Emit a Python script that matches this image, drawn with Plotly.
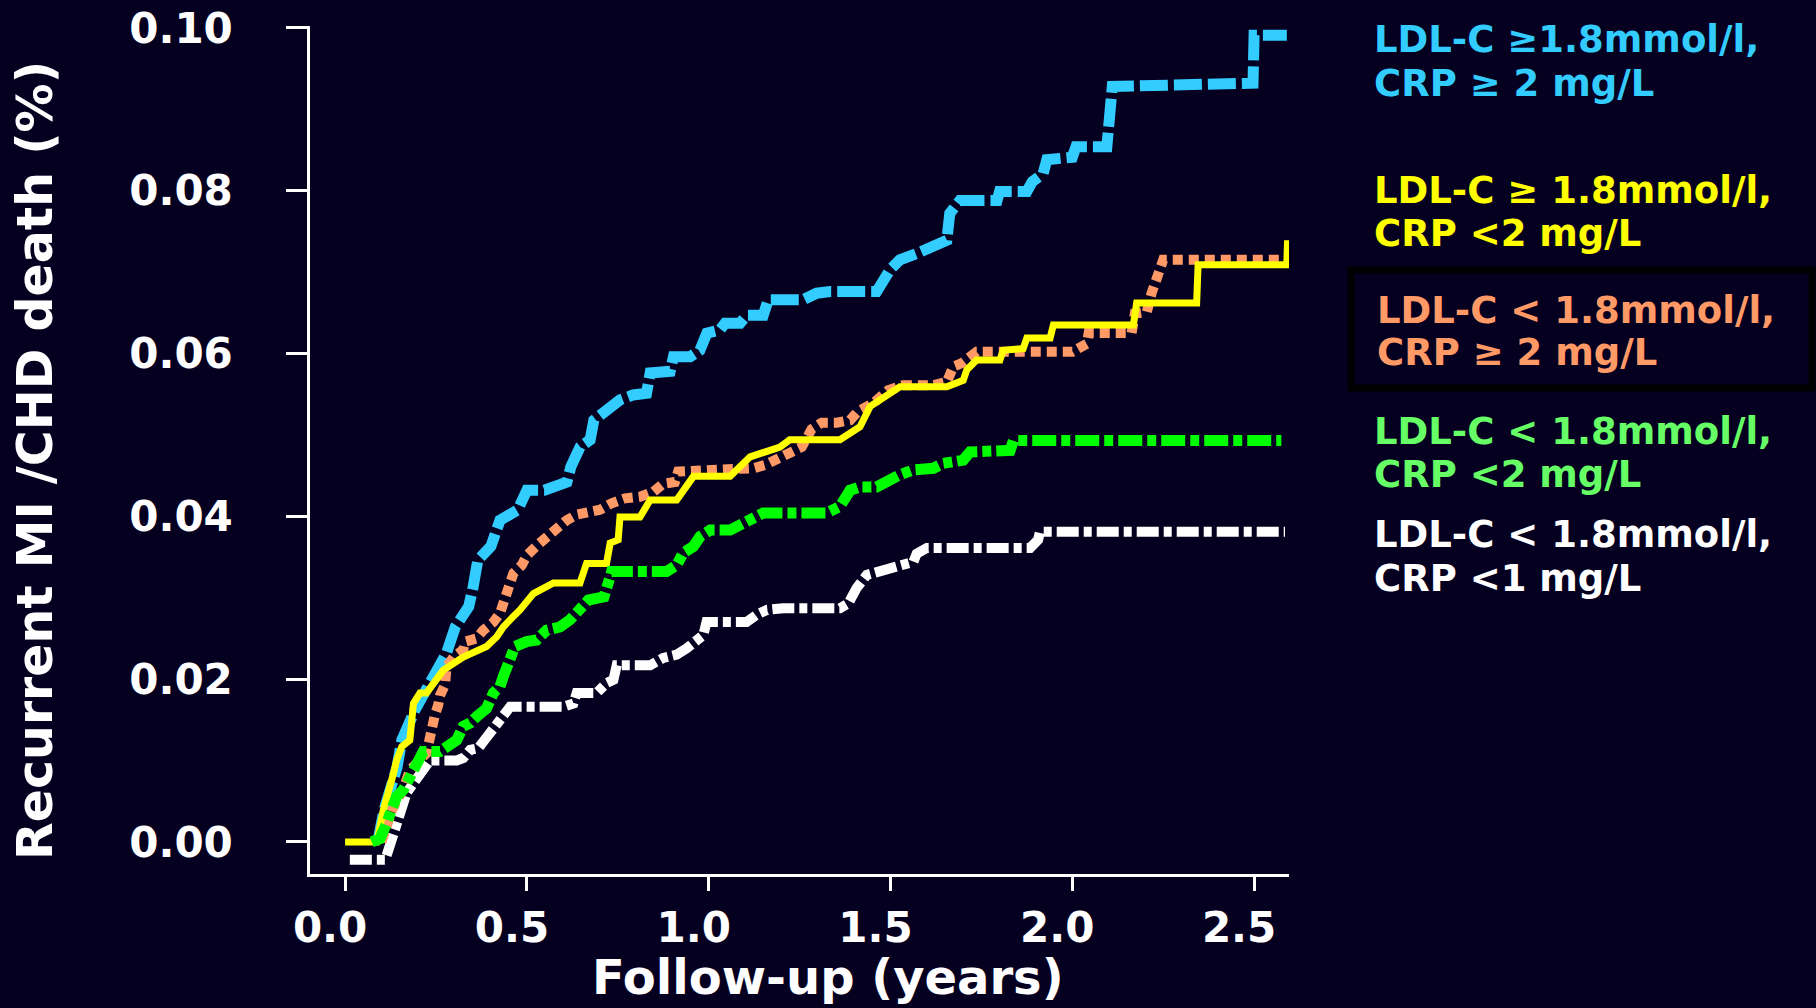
import plotly.graph_objects as go

# ---------------- data ----------------
blue_t = [0.09, 0.107, 0.143, 0.156, 0.192, 0.254, 0.279, 0.303, 0.340, 0.352, 0.365, 0.401, 0.426,
          0.475, 0.50, 0.548, 0.573, 0.610, 0.621, 0.646, 0.674, 0.684, 0.710, 0.729, 0.756, 0.792,
          0.829, 0.839, 0.894, 0.903, 0.949, 0.976, 0.995, 1.031, 1.045, 1.086, 1.105, 1.150, 1.164, 1.26, 1.297,
          1.334, 1.462, 1.499, 1.526, 1.573, 1.655, 1.663, 1.691, 1.793, 1.80, 1.875, 1.89, 1.92, 1.93, 2.00,
          2.01, 2.095, 2.11, 2.497, 2.50, 2.59]
blue_y = [0.0, 0.0039, 0.0092, 0.0125, 0.0162, 0.0208, 0.0232, 0.0264, 0.0289, 0.0313, 0.0346, 0.0363, 0.0395,
          0.0408, 0.0432, 0.0432, 0.0437, 0.0442, 0.0461, 0.0485, 0.0494, 0.0518, 0.0527, 0.0535, 0.0543, 0.0549,
          0.0551, 0.0576, 0.0578, 0.0596, 0.0596, 0.0604, 0.0625, 0.0629, 0.0637, 0.0637, 0.0647, 0.0647, 0.0666, 0.0666, 0.0674,
          0.0676, 0.0676, 0.0703, 0.0715, 0.0723, 0.0739, 0.0772, 0.0788, 0.0788, 0.0799, 0.0799, 0.0811, 0.0821, 0.0838, 0.0841,
          0.0854, 0.0854, 0.0928, 0.0932, 0.0991, 0.0991]

yellow_t = [0.0, 0.087, 0.096, 0.105, 0.133, 0.142, 0.156, 0.178, 0.188, 0.206, 0.224, 0.252, 0.270, 0.325,
            0.353, 0.389, 0.417, 0.435, 0.463, 0.481, 0.518, 0.554, 0.573, 0.646, 0.664, 0.719, 0.729, 0.751,
            0.756, 0.811, 0.839, 0.912, 0.958, 1.059, 1.114, 1.196, 1.223, 1.361, 1.416, 1.444, 1.526, 1.655,
            1.700, 1.710, 1.737, 1.801, 1.810, 1.865, 1.875, 1.939, 1.948, 2.168, 2.177, 2.342, 2.346, 2.590, 2.592]
yellow_y = [0.0, 0.0, 0.0019, 0.0039, 0.0084, 0.0101, 0.0117, 0.0125, 0.0170, 0.0183, 0.0183, 0.0199, 0.0211, 0.0227,
            0.0232, 0.0240, 0.0252, 0.0264, 0.0277, 0.0285, 0.0305, 0.0313, 0.0318, 0.0318, 0.0342, 0.0342, 0.0367, 0.0371,
            0.0399, 0.0399, 0.0420, 0.0420, 0.0449, 0.0449, 0.0473, 0.0485, 0.0494, 0.0494, 0.0510, 0.0535, 0.0559, 0.0559,
            0.0567, 0.0580, 0.0592, 0.0592, 0.0604, 0.0606, 0.0619, 0.0619, 0.0635, 0.0635, 0.0662, 0.0662, 0.0709, 0.0709, 0.0739]

orange_t = [0.10, 0.13, 0.16, 0.178, 0.224, 0.233, 0.243, 0.247, 0.256, 0.261, 0.275, 0.279, 0.298, 0.325, 0.330,
            0.362, 0.380, 0.408, 0.426, 0.435, 0.444, 0.454, 0.463, 0.486, 0.50, 0.53, 0.564, 0.582, 0.609, 0.637,
            0.701, 0.733, 0.770, 0.811, 0.848, 0.875, 0.907, 0.916, 1.04, 1.123, 1.155, 1.187, 1.219, 1.256, 1.283,
            1.311, 1.352, 1.389, 1.411, 1.453, 1.494, 1.535, 1.617, 1.655, 1.673, 1.696, 1.737, 2.0, 2.040, 2.045,
            2.163, 2.172, 2.205, 2.218, 2.250, 2.59]
orange_y = [0.0, 0.0040, 0.0065, 0.0088, 0.0109, 0.0133, 0.0146, 0.0156, 0.0168, 0.0180, 0.0193, 0.0215, 0.0227, 0.0236, 0.0246,
            0.0250, 0.0260, 0.0270, 0.0281, 0.0293, 0.0305, 0.0316, 0.0330, 0.0340, 0.0352, 0.0365, 0.0377, 0.0387, 0.0395, 0.0402,
            0.0408, 0.0416, 0.0422, 0.0424, 0.0430, 0.0440, 0.0442, 0.0455, 0.0457, 0.0459, 0.0463, 0.0471, 0.0477, 0.0485, 0.0507,
            0.0515, 0.0515, 0.0518, 0.0529, 0.0539, 0.0555, 0.0561, 0.0561, 0.0565, 0.0584, 0.0588, 0.0602, 0.0602, 0.0612, 0.0625,
            0.0625, 0.0649, 0.0651, 0.0674, 0.0715, 0.0715]

green_t = [0.073, 0.096, 0.114, 0.123, 0.142, 0.160, 0.178, 0.192, 0.206, 0.215, 0.261, 0.289, 0.307, 0.325, 0.344,
           0.362, 0.389, 0.408, 0.426, 0.435, 0.454, 0.467, 0.499, 0.527, 0.554, 0.591, 0.619, 0.646, 0.669, 0.712,
           0.724, 0.733, 0.884, 0.912, 0.930, 0.958, 0.976, 1.004, 1.059, 1.114, 1.150, 1.324, 1.361, 1.389, 1.416,
           1.462, 1.498, 1.526, 1.563, 1.618, 1.645, 1.700, 1.719, 1.829, 1.838, 2.575]
green_y = [0.0, 0.0004, 0.0023, 0.0035, 0.0056, 0.0064, 0.0080, 0.0090, 0.0105, 0.0111, 0.0111, 0.0119, 0.0125, 0.0142, 0.0146,
           0.0154, 0.0164, 0.0183, 0.0191, 0.0203, 0.0223, 0.0240, 0.0246, 0.0248, 0.0260, 0.0264, 0.0273, 0.0285, 0.0297, 0.0301,
           0.0322, 0.0332, 0.0332, 0.0340, 0.0355, 0.0363, 0.0375, 0.0383, 0.0383, 0.0397, 0.0404, 0.0404, 0.0412, 0.0432, 0.0436,
           0.0436, 0.0445, 0.0451, 0.0457, 0.0459, 0.0465, 0.0469, 0.0479, 0.0481, 0.0493, 0.0493]

white_t = [0.013, 0.11, 0.119, 0.133, 0.142, 0.156, 0.169, 0.188, 0.206, 0.224, 0.233, 0.307, 0.325, 0.344, 0.366,
           0.380, 0.399, 0.421, 0.435, 0.454, 0.600, 0.628, 0.637, 0.692, 0.719, 0.738, 0.747, 0.839, 0.875, 0.912,
           0.940, 0.958, 0.985, 0.994, 1.104, 1.132, 1.160, 1.205, 1.361, 1.384, 1.398, 1.407, 1.435, 1.480, 1.499,
           1.526, 1.563, 1.572, 1.600, 1.884, 1.906, 1.911, 2.585]
white_y = [-0.0022, -0.0022, -0.0010, 0.0011, 0.0027, 0.0043, 0.0060, 0.0072, 0.0084, 0.0097, 0.0100, 0.0100, 0.0103, 0.0113, 0.0115,
           0.0123, 0.0133, 0.0146, 0.0154, 0.0166, 0.0166, 0.0170, 0.0183, 0.0183, 0.0195, 0.0199, 0.0217, 0.0217, 0.0226, 0.0230,
           0.0238, 0.0244, 0.0254, 0.0270, 0.0270, 0.0279, 0.0285, 0.0287, 0.0287, 0.0293, 0.0305, 0.0312, 0.0328, 0.0334, 0.0338,
           0.0342, 0.0344, 0.0354, 0.0361, 0.0361, 0.0371, 0.0381, 0.0381]

labels = [
    ["LDL-C ≥1.8mmol/l,", "CRP ≥ 2 mg/L"],
    ["LDL-C ≥ 1.8mmol/l,", "CRP &lt;2 mg/L"],
    ["LDL-C &lt; 1.8mmol/l,", "CRP ≥ 2 mg/L"],
    ["LDL-C &lt; 1.8mmol/l,", "CRP &lt;2 mg/L"],
    ["LDL-C &lt; 1.8mmol/l,", "CRP &lt;1 mg/L"],
]

y_ticks = [0.00, 0.02, 0.04, 0.06, 0.08, 0.10]
x_ticks = [0.0, 0.5, 1.0, 1.5, 2.0, 2.5]

# ---------------- layout geometry ----------------
W, H = 1816, 1008
L, R, T, B = 310, 527, 26, 134
PW, PH = W - L - R, H - T - B
BG = "#050020"
FONT = "DejaVu Sans"


def px(x):
    return (x - L) / PW


def py(y):
    return 1 - (y - T) / PH


fig = go.Figure()

series = [
    (white_t, white_y, "#FFFFFF", 10, "22px,5px,8px,5px", labels[4]),
    (blue_t, blue_y, "#33CCFF", 11, "28px,6px", labels[0]),
    (orange_t, orange_y, "#FF9966", 10, "10px,6px", labels[2]),
    (yellow_t, yellow_y, "#FFFF00", 7, "solid", labels[1]),
    (green_t, green_y, "#00FF00", 11, "24px,5px,9px,5px", labels[3]),
]
for t, y, col, w, dash, lab in series:
    fig.add_trace(go.Scatter(x=t, y=y, mode="lines", name=" ".join(lab),
                             line=dict(color=col, width=w, dash=dash),
                             showlegend=False, hoverinfo="skip"))

fig.update_layout(
    width=W, height=H,
    margin=dict(l=L, r=R, t=T, b=B, pad=0, autoexpand=False),
    paper_bgcolor=BG, plot_bgcolor=BG,
    font=dict(family=FONT, color="white"),
    xaxis=dict(range=[(L - 345.1) / 363.6, (W - R - 345.1) / 363.6], automargin=False,
               tickvals=x_ticks, ticktext=[f"{v:.1f}" for v in x_ticks],
               showgrid=False, zeroline=False, showline=True, linecolor="white", linewidth=2.5,
               ticks="outside", ticklen=14, tickwidth=2.5, tickcolor="white",
               tickfont=dict(family=FONT, size=42, color="white", weight="bold"),
               ticklabelstandoff=1, ticklabelshift=-15),
    yaxis=dict(range=[(841.9 - (H - B)) / 8141, (841.9 - T) / 8141], automargin=False,
               tickvals=y_ticks, ticktext=[f"{v:.2f}" for v in y_ticks],
               showgrid=False, zeroline=False, showline=True, linecolor="white", linewidth=2.5,
               ticks="outside", ticklen=21, tickwidth=2.5, tickcolor="white",
               tickfont=dict(family=FONT, size=42, color="white", weight="bold"),
               ticklabelstandoff=45),
)

ann = []
ann.append(dict(text="Recurrent MI /CHD death (%)", x=px(35), y=py(461), xref="paper", yref="paper",
                showarrow=False, textangle=-90, xanchor="center", yanchor="middle",
                font=dict(family=FONT, size=49, color="white", weight="bold")))
ann.append(dict(text="Follow-up (years)", x=px(828), y=py(977), xref="paper", yref="paper",
                showarrow=False, xanchor="center", yanchor="middle",
                font=dict(family=FONT, size=48, color="white", weight="bold")))

legend_cols = ["#33CCFF", "#FFFF00", "#FF9966", "#66FF66", "#FFFFFF"]
legend_y = [(40, 83), (190, 233), (310, 352), (431, 474), (534, 578)]
legend_x = [1372, 1372, 1375, 1372, 1372]
for lab, col, (y1, y2), lx in zip(labels, legend_cols, legend_y, legend_x):
    for txt, yy in zip(lab, (y1, y2)):
        ann.append(dict(text=txt, x=px(lx), y=py(yy), xref="paper", yref="paper",
                        showarrow=False, xanchor="left", yanchor="middle",
                        font=dict(family=FONT, size=37, color=col, weight="bold")))
fig.update_layout(annotations=ann)

fig.add_shape(type="rect", xref="paper", yref="paper",
              x0=px(1351), x1=px(1812), y0=py(270), y1=py(388),
              line=dict(color="black", width=7), fillcolor="rgba(0,0,0,0)")

fig.write_html("out.html", config={"displayModeBar": False},
               post_script="document.body.style.margin='0';document.body.style.background='" + BG + "';")
